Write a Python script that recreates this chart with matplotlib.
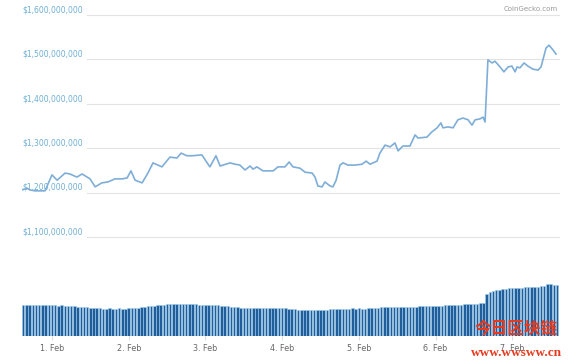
import matplotlib
matplotlib.use("Agg")
import matplotlib.pyplot as plt
import matplotlib.transforms as mtransforms

# hours counted from 1 Feb 00:00, price in millions of USD
price_hours = [-9.4, -7.8, -6.9, -5.3, -2.2, 0.0, 1.6, 4.1, 5.6, 7.8,
               9.4, 11.9, 13.5, 15.6, 17.5, 19.7, 21.9, 23.5, 24.7, 26.0,
               28.2, 30.0, 31.6, 34.4, 36.9, 39.1, 40.4, 42.2, 43.8, 46.9,
               47.9, 49.4, 51.3, 52.6, 55.7, 57.3, 58.8, 60.4, 62.0, 62.9,
               64.1, 66.0, 69.2, 70.7, 72.9, 74.2, 75.4, 77.6, 79.2, 81.4,
               82.3, 83.2, 84.5, 85.4, 87.0, 87.9, 88.9, 90.1, 91.1, 92.6,
               94.8, 97.0, 98.3, 99.5, 101.7, 102.6, 104.2, 105.8, 107.3, 108.3,
               109.8, 112.0, 113.6, 114.5, 117.3, 118.9, 120.5, 121.7, 122.3, 123.9,
               125.5, 127.0, 128.6, 130.2, 131.4, 132.4, 133.9, 134.9, 135.5, 136.4,
               137.7, 138.6, 140.2, 141.4, 142.7, 143.9, 144.9, 145.5, 146.4, 147.7,
               148.9, 150.5, 152.1, 153.0, 154.6, 155.5, 156.8, 157.7]
price_musd = [1206, 1210, 1206, 1204, 1204, 1240, 1228, 1244, 1242, 1235,
              1242, 1231, 1213, 1222, 1224, 1231, 1231, 1233, 1249, 1228,
              1222, 1244, 1267, 1258, 1280, 1278, 1289, 1283, 1283, 1285,
              1274, 1258, 1283, 1260, 1267, 1264, 1262, 1251, 1260, 1253,
              1258, 1249, 1249, 1258, 1258, 1269, 1258, 1255, 1246, 1244,
              1235, 1215, 1213, 1224, 1215, 1213, 1228, 1262, 1267, 1262,
              1262, 1264, 1271, 1264, 1271, 1289, 1307, 1303, 1312, 1294,
              1305, 1305, 1330, 1323, 1325, 1337, 1346, 1357, 1346, 1348,
              1346, 1364, 1368, 1364, 1352, 1364, 1366, 1370, 1359, 1499,
              1492, 1496, 1483, 1472, 1483, 1485, 1472, 1483, 1481, 1492,
              1485, 1478, 1476, 1483, 1526, 1532, 1521, 1512]

# hourly volume bars, starting at hour -9
volume_start = -9
volume_musd = [31.5, 31.5, 31, 31, 31.5, 31, 31, 31, 31,
               31, 31, 30.5, 31, 30.5, 30.5, 30,
               30, 29.5, 29.5, 29, 29, 28.5, 28.5, 28,
               28, 27.5, 27.5, 28, 27.5, 27.5, 28, 27.5, 27.5, 28, 28, 28.5, 28.5, 29, 29.5,
               30, 30, 30.5, 31, 31, 31.5, 32, 32,
               32.5, 32.5, 32, 32.5, 32.5, 32, 32, 32.5, 31.5,
               31.5, 31, 31, 31.5, 31, 31, 30.5, 30, 30, 29.5,
               29, 29, 28.5, 28.5, 28.5, 28.5, 28, 28.5, 28, 28,
               28.5, 28, 28, 28, 28.5, 28, 28, 27.5, 27, 27, 26.5,
               26.5, 26.5, 26.5, 26.5, 26, 26, 26.5, 26.5, 26.5, 27,
               27, 27.5, 27, 27.5, 27.5, 27.5, 28, 27.5, 28, 27.5,
               27.5, 28, 28, 28, 28.5, 29,
               29.5, 29, 29, 29.5, 29, 29, 29.5, 29, 29.5, 29.5, 29.5, 30,
               30, 30, 30, 30.5, 30, 30.5, 30.5, 31, 31,
               31, 31.5, 31.5, 31.5, 32, 32, 32, 32.5, 32.5, 33, 33,
               42.5, 44, 45, 46, 46.5, 47, 47.5, 48, 48, 48,
               48.5, 48.5, 49, 49.5, 49.5, 49.5, 49.5, 50, 50, 52.5,
               52, 51, 51]
volume_hours = list(range(volume_start, volume_start + len(volume_musd)))

price_ticks = [1100, 1200, 1300, 1400, 1500, 1600]
day_ticks = [0, 24, 48, 72, 96, 120, 144]
day_labels = ["1. Feb", "2. Feb", "3. Feb", "4. Feb", "5. Feb", "6. Feb", "7. Feb"]

W, H = 575, 361
fig = plt.figure(figsize=(W / 100, H / 100), dpi=100)
plt.rcParams['font.family'] = ['DejaVu Sans']

left, right = 22, 560
xlim = ((left - 52) / 3.196, (right - 52) / 3.196)

# price panel
ax = fig.add_axes([left / W, 1 - 250 / H, (right - left) / W, 240 / H])
ax.set_xlim(*xlim)
ax.set_ylim(1070.8, 1611.3)
for s in ax.spines.values():
    s.set_visible(False)
ax.set_xticks([])
ax.set_yticks([])
trans = mtransforms.blended_transform_factory(ax.transAxes, ax.transData)
for v in price_ticks:
    ax.axhline(v, xmin=0.12, xmax=1.0, color="#e3e3e3", lw=0.8, zorder=1)
    ax.text(0.0, v + 1.5, "${:,.0f}".format(v * 1e6), transform=trans,
            fontsize=5.5, color="#6eaed3", va="bottom", ha="left", zorder=2)
ax.plot(price_hours, price_musd, color="#7eaed8", lw=1.2, zorder=3)

# volume panel
axv = fig.add_axes([left / W, 1 - 336 / H, (right - left) / W, 60 / H])
axv.set_xlim(*xlim)
axv.set_ylim(0, 60)
for s in axv.spines.values():
    s.set_visible(False)
axv.bar(volume_hours, volume_musd, width=0.78, color="#1f5d9b",
        edgecolor="#9ccbee", linewidth=0.4)
axv.set_yticks([])
axv.set_xticks(day_ticks)
axv.set_xticklabels(day_labels)
axv.tick_params(axis="x", length=3, width=0.6, color="#ccd6eb",
                labelsize=5.8, labelcolor="#666666", pad=3)

fig.text(558 / W, 1 - 9 / H, "CoinGecko.com", fontsize=5, color="#999999",
         ha="right", va="center")

# watermark
fig.text(516 / W, 1 - 328 / H, "今日区块链", fontsize=12, fontweight="bold",
         color="#e8391d", ha="center", va="center",
         family=["Noto Sans CJK SC", "DejaVu Sans"])
fig.text(516 / W, 1 - 353 / H, "www.wwsww.cn", fontsize=9.5, fontweight="bold",
         color="#e8391d", ha="center", va="center", family="Liberation Serif")

fig.savefig("out.png", dpi=100)
